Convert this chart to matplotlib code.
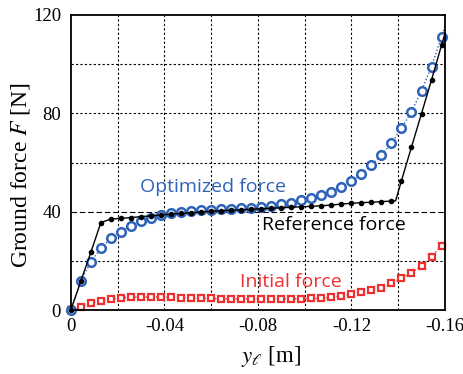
import numpy as np
import matplotlib
matplotlib.use("Agg")
import matplotlib.pyplot as plt

plt.rcParams['mathtext.fontset'] = 'stix'
plt.rcParams['axes.unicode_minus'] = False

# x positions of samples [m]
step = -0.004285
x_idx = list(range(38))
x_end = -0.16

reference = [0.0, 11.8, 23.5, 35.6, 37.0, 37.3, 37.6, 38.0, 38.3, 38.7,
             39.0, 39.3, 39.6, 39.9, 40.2, 40.4, 40.6, 40.8, 41.0, 41.2,
             41.4, 41.6, 41.8, 42.0, 42.2, 42.4, 42.7, 43.1, 43.4, 43.7,
             43.8, 44.1, 44.3, 52.6, 66.3, 79.9, 93.6, 107.7]
ref_kink_x, ref_kink_y = -0.1389, 44.4
ref_end = 112.4

optimized = [0.0, 11.8, 19.7, 25.1, 29.2, 31.9, 34.2, 36.2, 37.6, 38.7,
             39.4, 40.0, 40.4, 40.5, 40.7, 41.0, 41.1, 41.4, 41.6, 42.0,
             42.4, 43.0, 43.6, 44.6, 45.5, 46.6, 48.1, 50.2, 52.4, 55.3,
             58.9, 63.0, 67.8, 73.9, 80.7, 89.2, 99.0, 111.2]
opt_end = 115.5

initial = [0.0, 1.4, 2.7, 3.8, 4.5, 5.0, 5.2, 5.3, 5.3, 5.3,
           5.2, 5.0, 4.9, 4.8, 4.7, 4.6, 4.6, 4.5, 4.5, 4.5,
           4.5, 4.5, 4.6, 4.6, 4.7, 4.8, 5.2, 5.7, 6.4, 7.5,
           8.1, 9.1, 10.8, 12.9, 15.2, 17.9, 21.7, 26.2]
init_end = 28.0

xticks = [0, -0.04, -0.08, -0.12, -0.16]
xticklabels = ['0', '-0.04', '-0.08', '-0.12', '-0.16']
yticks = [0, 40, 80, 120]

blue = '#2f63b8'
red = '#ee3030'

x = [i * step for i in x_idx]

fig = plt.figure(figsize=(4.63, 3.74), dpi=100)
ax = fig.add_axes([0.153, 0.171, 0.808, 0.789])

# grid
for gx in np.arange(-0.02, -0.159, -0.02):
    ax.axvline(gx, color='black', lw=0.8, ls=(0, (2, 2)), zorder=1)
for gy in [20, 60, 80, 100]:
    ax.axhline(gy, color='black', lw=0.8, ls=(0, (2, 2)), zorder=1)
ax.axhline(40, color='black', lw=0.8, ls=(0, (5, 2.5)), zorder=1)

# initial force
ax.plot(x + [x_end], initial + [init_end], color=red, ls=(0, (1, 1.5)), lw=1.0,
        zorder=3)
ax.plot(x, initial, ls='none', marker='s', ms=4.6, mfc='white', mec=red,
        mew=1.6, zorder=4, clip_on=False)

# optimized force
ax.plot(x + [x_end], optimized + [opt_end], color=blue, ls=(0, (1, 1.5)),
        lw=1.0, zorder=3)
ax.plot(x, optimized, ls='none', marker='o', ms=6.2, mfc='white', mec=blue,
        mew=1.8, zorder=4, clip_on=False)

# reference force
xr = x[:33] + [ref_kink_x] + x[33:] + [x_end]
yr = reference[:33] + [ref_kink_y] + reference[33:] + [ref_end]
ax.plot(xr, yr, color='black', lw=1.0, zorder=5)
ax.plot(x, reference, ls='none', marker='o', ms=3.0, color='black', zorder=6,
        clip_on=False)

ax.set_xlim(0, -0.16)
ax.set_ylim(0, 120)
ax.set_xticks(xticks)
ax.set_xticklabels(xticklabels)
ax.set_yticks(yticks)
ax.tick_params(axis='both', length=0, labelsize=13.5)
ax.tick_params(axis='x', pad=6)
ax.tick_params(axis='y', pad=7)
for lab in ax.get_xticklabels() + ax.get_yticklabels():
    lab.set_family('Liberation Serif')
for s in ax.spines.values():
    s.set_linewidth(1.3)
    s.set_zorder(10)

ax.set_ylabel('Ground force $F$ [N]', fontsize=17, family='Liberation Serif')
ax.yaxis.set_label_coords(-0.104, 0.458)
ax.set_xlabel(r'$y_\ell$ [m]', fontsize=16.5, family='Liberation Serif')
ax.xaxis.set_label_coords(0.535, -0.115)

ax.text(-0.0608, 50.0, 'Optimized force', color=blue, fontsize=14,
        family='Open Sans', ha='center', va='center', zorder=7)
ax.text(-0.1125, 34.6, 'Reference force', color='black', fontsize=14,
        family='Open Sans', ha='center', va='center', zorder=7)
ax.text(-0.0941, 11.4, 'Initial force', color=red, fontsize=14,
        family='Open Sans', ha='center', va='center', zorder=7)

fig.savefig('out.png', dpi=100)
